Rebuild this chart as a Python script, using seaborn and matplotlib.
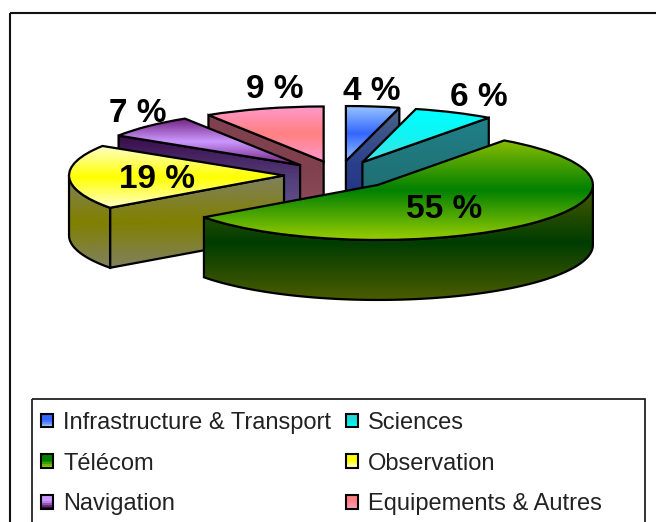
import numpy as np
import seaborn as sns
import matplotlib.pyplot as plt
from matplotlib.legend_handler import HandlerPatch
from matplotlib.patches import Patch, Polygon, Rectangle

sns.set_theme(style = 'white')
plt.rcParams['font.family'] = ['Liberation Sans', 'DejaVu Sans']

# Data
categories = ["Infrastructure & Transport", "Sciences", "Télécom", "Observation", "Navigation", "Equipements & Autres"]
shares = [4, 6, 55, 19, 7, 9]

# top face and side face gradients (edge, middle, edge)
top_colors = [["#98c4ff", "#3366ff", "#98c4ff"], ["#00ffff", "#10f4f4", "#48e0e0"],
              ["#88bc00", "#008000", "#98cc00"], ["#ffffc8", "#ffff00", "#ffffc8"],
              ["#70207f", "#cc99ff", "#70207f"], ["#ff99cc", "#ff8080", "#ff99cc"]]
side_colors = [["#4c6484", "#2a3f8c", "#1f2f80"], ["#208088", "#1f7478", "#206870"],
               ["#4c5c00", "#003c00", "#4c5c00"], ["#808060", "#808000", "#808060"],
               ["#3a0a4a", "#54407c", "#665a90"], ["#804050", "#80404c", "#905060"]]
swatch_colors = [["#3366ff", "#3366ff", "#98c4ff"], ["#33cccc", "#10e0e0", "#00ffff"],
                 ["#008000", "#008000", "#98cc00"], ["#ffff00", "#ffff00", "#ffffc8"],
                 ["#cc99ff", "#cc99ff", "#400040"], ["#ff8080", "#ff8080", "#ff99cc"]]

# layout, in pixels of the 656x522 picture
W, H = 656, 522
CX, CY = 339, 175
RX, RY = 215, 55
DEPTH = 60 / RY
label_xy = [(372, 91), (479, 97), (444, 210), (157, 180), (138, 113), (275, 89)]
draw_order = [5, 4, 0, 1, 3, 2]  # back to front
legend_order = [0, 2, 4, 1, 3, 5]


def gradient_fill(ax, patch, stops, z):
    # vertical gradient clipped to the patch
    xy = patch.get_path().transformed(patch.get_patch_transform()).vertices
    cmap = sns.blend_palette(stops, n_colors = 64, as_cmap = True)
    grad = np.linspace(0, 1, 128).reshape(-1, 1)
    im = ax.imshow(grad, cmap = cmap, aspect = 'auto', origin = 'upper', zorder = z,
                   extent = (xy[:, 0].min(), xy[:, 0].max(), xy[:, 1].min(), xy[:, 1].max()))
    im.set_clip_path(patch)


def side_face(ax, xs, ys, stops, z):
    pts = np.column_stack([np.r_[xs, xs[::-1]], np.r_[ys, ys[::-1] - DEPTH]])
    face = Polygon(pts, closed = True, fc = 'none', ec = 'black', lw = 1.6, zorder = z + 0.5)
    ax.add_patch(face)
    gradient_fill(ax, face, stops, z)


class GradientSwatch(HandlerPatch):
    def create_artists(self, legend, orig, xdescent, ydescent, width, height, fontsize, trans):
        stops = orig.get_gid().split(",")
        cmap = sns.blend_palette(stops, n_colors = 8, as_cmap = True)
        arts = []
        for i in range(8):
            arts.append(Rectangle((-xdescent, -ydescent + height * (7 - i) / 8), width, height / 8 + 0.3,
                                  fc = cmap(i / 7), ec = 'none', transform = trans))
        arts.append(Rectangle((-xdescent, -ydescent), width, height, fc = 'none', ec = 'black',
                              lw = 1.5, transform = trans))
        return arts


fig = plt.figure(figsize = (W / 100, H / 100), dpi = 100, facecolor = 'white')

# pie: one unit is RX pixels across and RY pixels down
ax = fig.add_axes([0, 0, 1, 1])
wedges, _ = ax.pie(shares, explode = [55 / RX] * len(shares), startangle = 90, counterclock = False,
                   wedgeprops = dict(ec = 'black', lw = 1.6))

for n, i in enumerate(draw_order):
    w = wedges[i]
    z = 10 + n * 10
    cx, cy = w.center
    t1, t2 = w.theta1, w.theta2
    # cut faces that look towards the viewer
    for t, normal in ((t1, t1 - 90), (t2, t2 + 90)):
        if np.sin(np.radians(normal)) < -1e-6:
            a = np.radians(t)
            side_face(ax, np.array([cx, cx + np.cos(a)]), np.array([cy, cy + np.sin(a)]), side_colors[i], z)
    # front part of the rim
    a = np.radians(np.linspace(t1, t2, 721))
    a = a[np.sin(a) <= 1e-6]
    if len(a) > 1:
        side_face(ax, cx + np.cos(a), cy + np.sin(a), side_colors[i], z + 2)
    # top face
    w.set_facecolor('none')
    w.set_zorder(z + 6)
    gradient_fill(ax, w, top_colors[i], z + 5)

ax.set_aspect('auto')
ax.set_xlim(-CX / RX, (W - CX) / RX)
ax.set_ylim((CY - H) / RY, CY / RY)
ax.axis('off')

# frames, labels and legend in pixel coordinates
over = fig.add_axes([0, 0, 1, 1], facecolor = 'none')
over.set_xlim(0, W)
over.set_ylim(H, 0)
over.axis('off')
over.add_patch(Rectangle((10, 13), W, H, fc = 'none', ec = '#111111', lw = 1.5))
over.add_patch(Rectangle((32, 399), 613, H, fc = 'none', ec = '#222222', lw = 1.3))

for v, (x, y) in zip(shares, label_xy):
    over.text(x, y, f"{v} %", ha = 'center', va = 'center', fontsize = 24, fontweight = 'bold', color = 'black')

handles = [Patch(label = categories[i], gid = ",".join(swatch_colors[i])) for i in legend_order]
over.legend(handles = handles, ncol = 2, loc = 'upper left', bbox_to_anchor = (35, 406),
            bbox_transform = over.transData, frameon = False, borderaxespad = 0, borderpad = 0.25,
            fontsize = 17, labelcolor = '#222222', handlelength = 0.52, handleheight = 0.52,
            handletextpad = 0.42, labelspacing = 0.79, columnspacing = 0.62,
            handler_map = {Patch: GradientSwatch()})

fig.savefig("out.png", dpi = 100)
